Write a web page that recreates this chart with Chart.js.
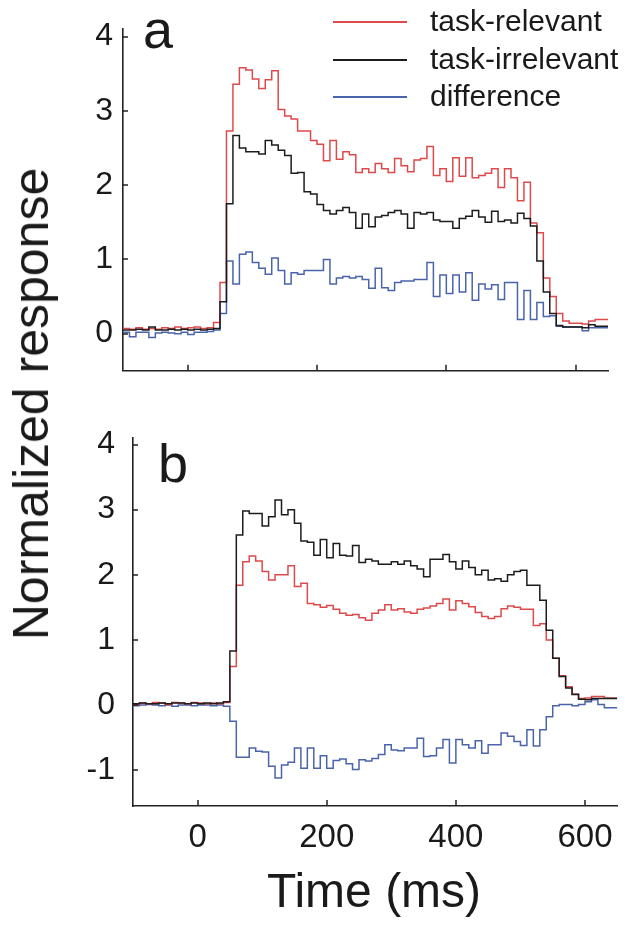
<!DOCTYPE html>
<html><head><meta charset="utf-8">
<script src="https://cdn.jsdelivr.net/npm/chart.js@4.4.1/dist/chart.umd.min.js"></script>
<style>
html,body{margin:0;padding:0;background:#fff;}
#wrap{position:relative;width:625px;height:925px;overflow:hidden;font-family:"Liberation Sans",Arial,sans-serif;color:#1a1a1a;}
canvas{position:absolute;left:0;}
.txt{position:absolute;white-space:nowrap;line-height:1;}
</style></head><body>
<div id="wrap">
<canvas id="chartA" width="625" height="400" style="top:0"></canvas>
<canvas id="chartB" width="625" height="470" style="top:400px"></canvas>
<div class="txt" id="ytitle" style="left:31px;top:404px;font-size:50px;transform:translate(-50%,-50%) rotate(-90deg);">Normalized response</div>
<div class="txt" style="left:374px;top:891px;font-size:48px;transform:translate(-50%,-50%);">Time (ms)</div>
<div class="txt" style="left:143px;top:2px;font-size:54px;">a</div>
<div class="txt" style="left:158px;top:436px;font-size:54px;">b</div>
<div id="legend"></div>
</div>
<script>
// ---- data ----
const binStart = [-100,-90,-80,-70,-60,-50,-40,-30,-20,-10,0,10,20,30,40,50,60,70,80,90,100,110,120,130,140,150,160,170,180,190,200,210,220,230,240,250,260,270,280,290,300,310,320,330,340,350,360,370,380,390,400,410,420,430,440,450,460,470,480,490,500,510,520,530,540,550,560,570,580,590,600,610,620,630,640];
const binEnd = 650;
const seriesNames = ["task-relevant","task-irrelevant","difference"];
const seriesColors = ["#dd4a4c","#1c1c1c","#4a64ab"];
const xTicks = [0,200,400,600];
const yTicksA = [0,1,2,3,4];
const yTicksB = [-1,0,1,2,3,4];

// panel a
const relevantA = [0.06,0.07,0.06,0.08,0.06,0.07,0.06,0.08,0.07,0.09,0.07,0.08,0.09,0.07,0.08,0.15,0.69,2.73,3.36,3.58,3.55,3.43,3.30,3.42,3.54,3.02,2.93,2.89,2.73,2.73,2.60,2.55,2.33,2.60,2.35,2.45,2.41,2.17,2.22,2.17,2.29,2.22,2.17,2.36,2.26,2.18,2.34,2.36,2.52,2.13,2.22,2.05,2.37,2.12,2.37,2.10,2.13,2.16,2.22,1.97,2.22,2.10,1.79,2.04,1.49,1.36,0.75,0.50,0.27,0.17,0.14,0.14,0.13,0.17,0.19];
const irrelevantA = [0.05,0.05,0.05,0.06,0.05,0.09,0.05,0.05,0.06,0.05,0.06,0.05,0.06,0.05,0.06,0.07,0.43,1.75,2.67,2.50,2.45,2.45,2.42,2.60,2.54,2.47,2.40,2.16,2.17,1.91,1.88,1.74,1.66,1.61,1.66,1.70,1.63,1.42,1.61,1.44,1.57,1.59,1.63,1.66,1.61,1.42,1.63,1.61,1.63,1.53,1.51,1.51,1.42,1.55,1.58,1.66,1.57,1.50,1.65,1.51,1.53,1.49,1.62,1.55,1.45,0.98,0.56,0.27,0.11,0.09,0.09,0.09,0.08,0.12,0.10];
const differenceA = [0.01,0.02,-0.04,0.02,0.02,-0.05,0.01,0.02,0.01,0.00,0.02,-0.01,0.02,0.02,0.03,0.05,0.27,0.98,0.67,1.07,1.10,0.96,0.88,0.80,1.02,0.85,0.67,0.82,0.80,0.85,0.85,0.85,1.00,0.67,0.75,0.77,0.75,0.77,0.73,0.61,0.88,0.62,0.58,0.69,0.71,0.71,0.73,0.73,0.96,0.50,0.79,0.54,0.79,0.56,0.82,0.45,0.67,0.60,0.66,0.46,0.69,0.69,0.19,0.58,0.19,0.42,0.23,0.24,0.10,0.09,0.09,0.09,0.04,0.08,0.08];
// panel b
const relevantB = [0.02,0.01,0.03,0.02,0.04,0.03,0.01,0.04,0.03,0.02,0.04,0.03,0.02,0.03,0.02,0.04,0.59,1.84,2.20,2.29,2.21,2.05,1.92,2.00,2.00,2.14,1.82,1.87,1.56,1.54,1.50,1.53,1.47,1.41,1.38,1.39,1.34,1.30,1.41,1.46,1.54,1.46,1.48,1.43,1.41,1.47,1.49,1.52,1.56,1.63,1.46,1.60,1.56,1.51,1.42,1.36,1.33,1.36,1.48,1.52,1.50,1.47,1.47,1.22,1.25,1.00,0.72,0.45,0.28,0.17,0.10,0.11,0.13,0.13,0.11];
const irrelevantB = [0.02,0.02,0.03,0.02,0.02,0.03,0.02,0.03,0.03,0.02,0.03,0.02,0.03,0.02,0.03,0.05,0.83,2.61,2.98,2.94,2.94,2.75,2.89,3.15,2.92,3.00,2.79,2.52,2.50,2.30,2.54,2.26,2.48,2.30,2.29,2.45,2.19,2.24,2.21,2.16,2.16,2.20,2.16,2.21,2.14,2.09,1.97,2.24,2.24,2.31,2.20,2.09,2.21,2.11,2.00,2.07,1.92,1.94,1.90,2.00,2.05,2.07,1.84,1.84,1.61,1.15,0.72,0.44,0.26,0.16,0.09,0.08,0.10,0.10,0.10];
const differenceB = [0.00,-0.01,0.00,0.01,0.00,-0.01,0.00,-0.02,0.00,0.00,-0.01,0.00,0.00,-0.01,0.00,-0.02,-0.25,-0.80,-0.80,-0.66,-0.71,-0.72,-0.94,-1.12,-0.92,-0.88,-0.66,-0.97,-0.66,-0.97,-0.78,-0.97,-0.85,-0.83,-0.90,-0.99,-0.84,-0.86,-0.82,-0.76,-0.61,-0.69,-0.70,-0.66,-0.66,-0.51,-0.79,-0.78,-0.66,-0.53,-0.89,-0.53,-0.61,-0.66,-0.55,-0.74,-0.61,-0.61,-0.43,-0.48,-0.56,-0.62,-0.38,-0.63,-0.38,-0.18,-0.01,0.01,0.01,-0.01,0.01,0.05,0.08,0.01,-0.04];

// ---- helpers ----
function stepPoints(vals){
  const pts = binStart.map((t,i)=>({x:t,y:vals[i]}));
  pts.push({x:binEnd,y:vals[vals.length-1]});
  return pts;
}
const inwardTicks = {
  id:'inwardTicks',
  afterDraw(chart){
    const {ctx, chartArea:a, scales:{x,y}} = chart;
    ctx.save(); ctx.strokeStyle='#222'; ctx.lineWidth=1.5; ctx.beginPath();
    x.ticks.forEach(t=>{const p=Math.round(x.getPixelForValue(t.value));ctx.moveTo(p,a.bottom);ctx.lineTo(p,a.bottom-6);});
    y.ticks.forEach(t=>{const p=Math.round(y.getPixelForValue(t.value));ctx.moveTo(a.left,p);ctx.lineTo(a.left+5,p);});
    ctx.stroke(); ctx.restore();
  }
};
Chart.defaults.font.family = '"Liberation Sans", Arial, sans-serif';
Chart.defaults.color = '#1a1a1a';

function makeChart(id, series, cfg){
  const datasets = series.map((vals,i)=>({
    label: seriesNames[i], data: stepPoints(vals), borderColor: seriesColors[i],
    borderWidth: 1.5, pointRadius: 0, stepped: 'after', fill: false, tension: 0,
    order: [1,0,2][i]
  }));
  return new Chart(document.getElementById(id), {
    type:'line',
    data:{datasets},
    options:{
      responsive:false, animation:false, devicePixelRatio:1,
      layout:{padding:cfg.padding},
      plugins:{legend:{display:false}, tooltip:{enabled:false}},
      scales:{
        x:{type:'linear', min:-100, max:binEnd,
          afterBuildTicks:s=>{s.ticks = xTicks.map(v=>({value:v}));},
          afterFit:s=>{s.height = cfg.xHeight;},
          grid:{display:false, drawTicks:false},
          border:{display:true, color:'#222', width:1.6},
          ticks:{display:cfg.xLabels, font:{size:33}, padding:12, color:'#1a1a1a'}},
        y:{type:'linear', min:cfg.ymin, max:cfg.ymax,
          afterBuildTicks:s=>{s.ticks = cfg.yTicks.map(v=>({value:v}));},
          afterFit:s=>{s.width = cfg.yWidth;},
          grid:{display:false, drawTicks:false},
          border:{display:true, color:'#222', width:1.6},
          ticks:{font:{size:32}, padding:cfg.yPad, color:'#1a1a1a'}}
      }
    },
    plugins:[inwardTicks]
  });
}

makeChart('chartA', [relevantA, irrelevantA, differenceA], {
  padding:{top:13,right:17,bottom:23,left:0}, xHeight:0, xLabels:false,
  ymin:-0.5, ymax:4.1, yTicks:yTicksA, yWidth:123, yPad:10
});
makeChart('chartB', [relevantB, irrelevantB, differenceB], {
  padding:{top:38,right:7,bottom:0,left:0}, xHeight:64, xLabels:true,
  ymin:-1.55, ymax:4.1, yTicks:yTicksB, yWidth:133, yPad:18
});

// legend (HTML)
const leg = document.getElementById('legend');
const legY = [22,60,97];
seriesNames.forEach((n,i)=>{
  const line = document.createElement('div');
  line.style.position = 'absolute';
  line.style.left = '333px';
  line.style.top = (legY[i]-1) + 'px';
  line.style.width = '74px';
  line.style.height = '2px';
  line.style.background = seriesColors[i];
  leg.appendChild(line);
  const t = document.createElement('div');
  t.className = 'txt';
  t.textContent = n;
  t.style.left = '430px';
  t.style.top = legY[i] + 'px';
  t.style.fontSize = '30px';
  t.style.transform = 'translateY(-52%)';
  leg.appendChild(t);
});
</script>
</body></html>
